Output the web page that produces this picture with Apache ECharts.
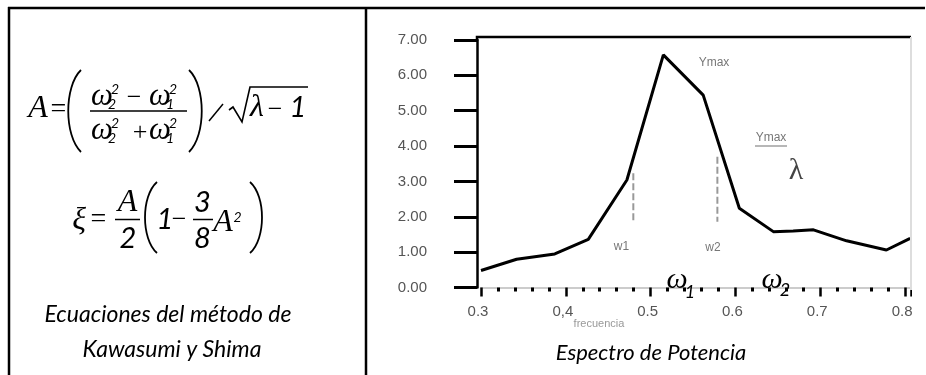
<!DOCTYPE html>
<html>
<head>
<meta charset="utf-8">
<script src="https://cdn.jsdelivr.net/npm/echarts@6/dist/echarts.min.js"></script>
<style>
  html, body { margin: 0; padding: 0; background: #fff; }
  #chart { width: 926px; height: 375px; }
</style>
</head>
<body>
<div id="chart"></div>
<script>
const freq  = [0.3, 0.342, 0.387, 0.4265, 0.472, 0.515, 0.562, 0.6046, 0.6447, 0.668, 0.692, 0.731, 0.778, 0.806];
const power = [0.48, 0.80, 0.95, 1.36, 3.04, 6.58, 5.44, 2.24, 1.58, 1.60, 1.63, 1.32, 1.06, 1.39];

// líneas punteadas w1 y w2
const w1Line = [[0.4796, 3.23], [0.4796, 1.83]];
const w2Line = [[0.5787, 3.70], [0.5787, 1.86]];

// etiquetas de los ejes
const xTickValues = [0.3, 0.4, 0.5, 0.6, 0.7, 0.8];
const xTickLabels = ['0.3', '0,4', '0.5', '0.6', '0.7', '0.8'];
const yTickLabels = ['0.00', '1.00', '2.00', '3.00', '4.00', '5.00', '6.00', '7.00'];

const SERIF = '"Liberation Serif", "Times New Roman", serif';
const SANS = '"Liberation Sans", Arial, sans-serif';
const CAL = 'Lato, "Open Sans", sans-serif';

function txt(s, x, y, size, family, opt) {
    opt = opt || {};
    return {
        type: 'text',
        z: 100,
        style: {
            text: s, x: x, y: y,
            fontSize: size,
            fontFamily: family,
            fontStyle: opt.italic ? 'italic' : 'normal',
            fontWeight: opt.weight || 'normal',
            fill: opt.color || '#000',
            align: 'center', verticalAlign: 'middle',
            textAlign: 'center', textVerticalAlign: 'middle'
        }
    };
}

function line(x1, y1, x2, y2, w, color) {
    return {
        type: 'line', z: 100,
        shape: {x1: x1, y1: y1, x2: x2, y2: y2},
        style: {stroke: color || '#000', lineWidth: w}
    };
}

function paren(x, y1, y2, bulge, w) {
    return {
        type: 'bezierCurve', z: 100,
        shape: {x1: x, y1: y1, cpx1: x + bulge, cpy1: y1 + (y2 - y1) * 0.2,
                cpx2: x + bulge, cpy2: y1 + (y2 - y1) * 0.8, x2: x, y2: y2},
        style: {stroke: '#000', lineWidth: w, fill: null}
    };
}

// omega con subíndice y exponente
function omega(x, y, sub) {
    return [
        txt('ω', x, y, 31, SERIF, {italic: true}),
        txt('2', x + 13, y - 8, 14, CAL, {italic: true}),
        txt(sub, x + 10, y + 7, 14, CAL, {italic: true})
    ];
}

// tabla y ecuaciones
const graphics = [
    // bordes de la tabla
    line(8, 8, 925, 8, 2.5),
    line(9, 7, 9, 375, 2.5),
    line(366, 7, 366, 375, 2.5),

    // A = ( (w2^2 - w1^2)/(w2^2 + w1^2) ) / sqrt(lambda - 1)
    txt('A', 38, 109, 32, SERIF, {italic: true}),
    txt('=', 58.5, 110, 28, SERIF),
    paren(81, 70, 152, -17, 1.8),
    ...omega(102, 97, '2'),
    txt('−', 134, 98, 26, SERIF),
    ...omega(160, 97, '1'),
    line(90, 111, 187, 111, 1.5),
    ...omega(102, 131, '2'),
    txt('+', 140, 133, 26, SERIF),
    ...omega(160, 131, '1'),
    paren(189, 70, 152, 17, 1.8),
    line(209, 121, 223, 104, 1.5),
    {
        type: 'polyline', z: 100,
        shape: {points: [[229, 110], [233, 107], [242, 122], [250, 87], [308, 87]]},
        style: {stroke: '#000', lineWidth: 1.6, fill: null}
    },
    txt('λ', 257, 108, 32, SERIF, {italic: true}),
    txt('−', 275, 110, 26, SERIF),
    txt('1', 298, 108, 29, CAL, {italic: true}),

    // xi = A/2 (1 - 3/8 A^2)
    txt('ξ', 79, 221, 32, SERIF, {italic: true}),
    txt('=', 98.5, 220, 28, SERIF),
    txt('A', 127.5, 203, 32, SERIF, {italic: true}),
    line(115, 219.5, 140, 219.5, 1.5),
    txt('2', 128, 239, 29, CAL, {italic: true}),
    paren(157, 182, 253, -16, 1.8),
    txt('1', 165, 220, 29, CAL, {italic: true}),
    txt('−', 179, 220, 26, SERIF),
    txt('3', 202.5, 203, 29, CAL, {italic: true}),
    line(193, 219.5, 213, 219.5, 1.5),
    txt('8', 202.5, 239, 29, CAL, {italic: true}),
    txt('A', 223, 223, 32, SERIF, {italic: true}),
    txt('2', 237.5, 217, 14, CAL, {italic: true}),
    paren(250, 182, 253, 16, 1.8),

    txt('Ecuaciones del método de', 168, 315, 23, CAL, {italic: true}),
    txt('Kawasumi y Shima', 172, 350, 23, CAL, {italic: true}),
    txt('Espectro de Potencia', 651, 353, 22, CAL, {italic: true}),

    // marco superior del gráfico y borde derecho
    {
        type: 'polyline', z: 100,
        shape: {points: [[477, 41], [477, 37], [911, 37]]},
        style: {stroke: '#000', lineWidth: 2.5, fill: null}
    },
    {type: 'rect', z: 99, shape: {x: 912, y: 20, width: 14, height: 310}, style: {fill: '#fff'}},
    line(911, 37, 911, 290, 2, '#ddd'),

    // anotaciones del espectro
    txt('Ymax', 714, 62.5, 12, SANS, {color: '#777'}),
    txt('Ymax', 771, 138, 12, SANS, {color: '#777'}),
    line(755, 146, 787, 146, 1.2, '#888'),
    txt('λ', 796, 171, 30, SERIF, {color: '#444'}),
    txt('w1', 621.5, 247, 12, SANS, {color: '#777'}),
    txt('w2', 713, 248, 12, SANS, {color: '#777'}),
    txt('frecuencia', 599, 323.5, 11, SANS, {color: '#999'}),
    txt('ω', 677, 280, 30, SERIF, {italic: true}),
    txt('1', 690, 292, 18, CAL, {italic: true}),
    txt('ω', 772, 280, 30, SERIF, {italic: true}),
    txt('2', 785, 290, 18, CAL, {italic: true})
];

const chart = echarts.init(document.getElementById('chart'));

const option = {
    backgroundColor: '#fff',
    animation: false,
    grid: {left: 481, top: 40, right: 15, bottom: 87.5, containLabel: false},
    xAxis: {
        type: 'value',
        min: 0.3,
        max: 0.807,
        interval: 0.1,
        offset: 2.5,
        axisLine: {lineStyle: {color: '#ccc', width: 2}},
        axisTick: {length: 9, lineStyle: {color: '#000', width: 2.5}},
        minorTick: {show: true, splitNumber: 5, length: 4, lineStyle: {color: '#000', width: 3}},
        splitLine: {show: false},
        axisLabel: {
            margin: 14,
            color: '#555',
            fontSize: 15,
            fontFamily: SANS,
            showMaxLabel: false,
            padding: [0, 6, 0, 0],
            formatter: function (v) {
                const i = xTickValues.findIndex(t => Math.abs(t - v) < 1e-6);
                return i >= 0 ? xTickLabels[i] : '';
            }
        }
    },
    yAxis: {
        type: 'value',
        min: 0,
        max: 7,
        interval: 1,
        offset: 4,
        axisLine: {show: true, lineStyle: {color: '#000', width: 2.5}},
        axisTick: {show: true, length: 23, lineStyle: {color: '#000', width: 3}},
        splitLine: {show: false},
        axisLabel: {
            margin: 50,
            color: '#555',
            fontSize: 15,
            fontFamily: SANS,
            formatter: function (v) { return yTickLabels[Math.round(v)]; }
        }
    },
    series: [
        {
            type: 'line',
            data: freq.map((f, i) => [f, power[i]]),
            symbol: 'none',
            lineStyle: {color: '#000', width: 3}
        },
        {
            type: 'line',
            data: w1Line,
            symbol: 'none',
            lineStyle: {color: '#999', width: 2, type: [7, 3]}
        },
        {
            type: 'line',
            data: w2Line,
            symbol: 'none',
            lineStyle: {color: '#999', width: 2, type: [7, 3]}
        }
    ],
    graphic: graphics
};

chart.setOption(option);
</script>
</body>
</html>
